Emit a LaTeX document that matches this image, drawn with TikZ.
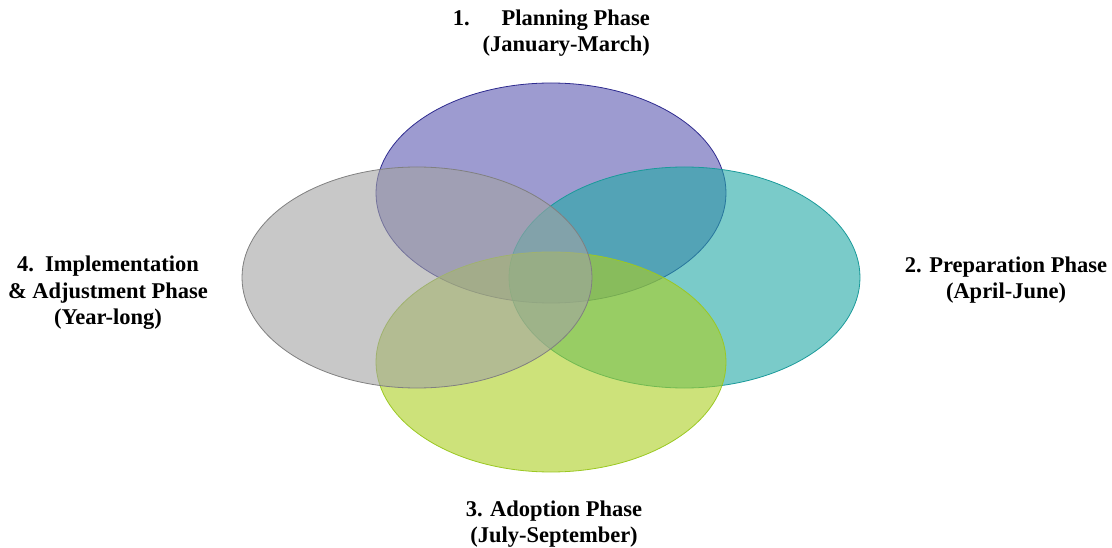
\documentclass[tikz,border=0pt]{standalone}
\usepackage{fontspec}
\setmainfont{Liberation Serif}
\usetikzlibrary{positioning}

\definecolor{planfill}{HTML}{5C58B1}
\definecolor{plandraw}{HTML}{2E2B8F}
\definecolor{prepfill}{HTML}{22A8A5}
\definecolor{prepdraw}{HTML}{1A9A9A}
\definecolor{adoptfill}{HTML}{ACCF21}
\definecolor{adoptdraw}{HTML}{9BC823}
\definecolor{implfill}{HTML}{A3A3A3}
\definecolor{impldraw}{HTML}{808080}

\tikzset{
  phase/.style={line width=0.8pt, fill opacity=0.6},
  phaselabel/.style={font=\fontsize{22.5}{26.5}\selectfont\bfseries, inner sep=0pt}
}

\begin{document}
\begin{tikzpicture}[x=1pt,y=-1pt]
\useasboundingbox (0,0) rectangle (1112,548);

% phase ellipses (grey one last, on top)
\draw[phase, fill=planfill, draw=plandraw]
  (551,193) ellipse (175 and 110);
\draw[phase, fill=prepfill, draw=prepdraw]
  (684.5,277.5) ellipse (175.5 and 110.5);
\draw[phase, fill=adoptfill, draw=adoptdraw]
  (551,362) ellipse (175 and 110);
\draw[phase, fill=implfill, draw=impldraw]
  (417,277.5) ellipse (175 and 110.5);

% labels
\node[phaselabel, align=right, anchor=east] (plan) at (650,33)
  {1.\hspace{32pt}Planning Phase\\(January-March)};
\node[phaselabel, align=center] (prep) at (1006,280)
  {2. Preparation Phase\\(April-June)};
\node[phaselabel, align=center] (adopt) at (554,524)
  {3. Adoption Phase\\(July-September)};
\node[phaselabel, align=center] (impl) at (108,293)
  {4.\ \ Implementation\\\& Adjustment Phase\\(Year-long)};
\end{tikzpicture}
\end{document}
